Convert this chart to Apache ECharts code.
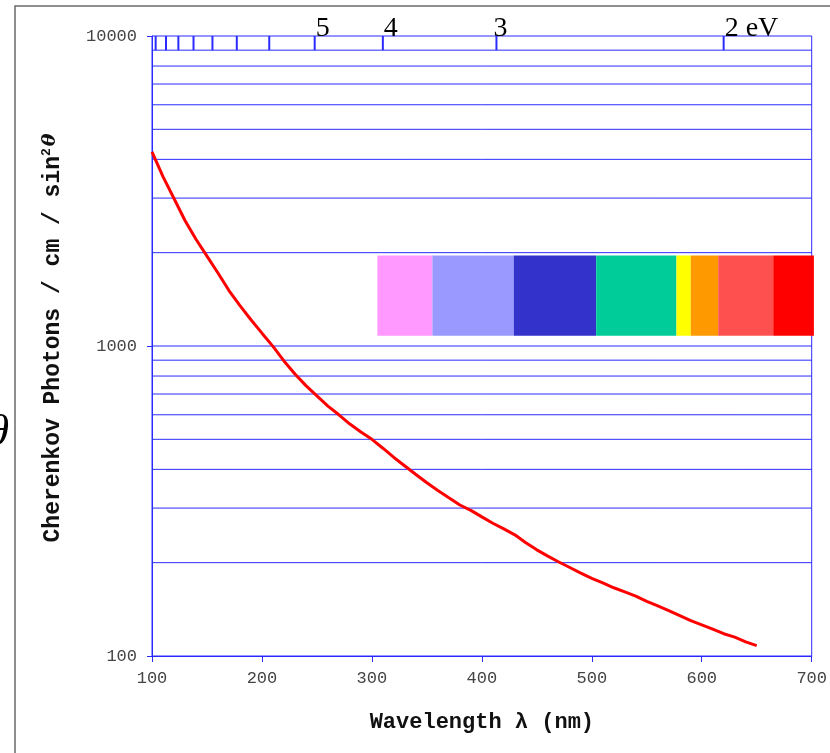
<!DOCTYPE html>
<html>
<head>
<meta charset="utf-8">
<script src="https://cdn.jsdelivr.net/npm/echarts@6/dist/echarts.min.js"></script>
<style>
  html, body { margin: 0; padding: 0; background: #fff; }
  #chart { width: 830px; height: 753px; }
</style>
</head>
<body>
<div id="chart"></div>
<script>
// Cherenkov photon yield per nm versus wavelength
const wavelength = [100,110,120,130,140,150,160,170,180,190,200,210,220,230,240,250,260,270,280,290,300,
  310,320,330,340,350,360,370,380,390,400,410,420,430,440,450,460,470,480,490,500,
  510,520,530,540,550,560,570,580,590,600,610,620,630,640,650];
const photons = [4230,3520,2990,2540,2210,1950,1720,1510,1350,1215,1100,997,895,812,745,690,640,600,560,528,500,
  468,437,410,385,362,342,324,307,295,281,268,257,246,232,220,210,201,193,185,178,
  172,166,161,156,150,145,140,135,130,126,122,118,115,111,108];

// Horizontal reference lines of the log grid
const gridValues = [200,300,400,500,600,700,800,900,1000,2000,3000,4000,5000,6000,7000,8000,9000];

// Photon energy scale along the top (eV), with the labelled values
const energyTicks = [2,3,4,5,6,7,8,9,10,11,12];
const energyLabels = { 2: '2 eV', 3: '3', 4: '4', 5: '5' };
const HC = 1239.84; // eV·nm

// Visible spectrum strip: band edges (nm) and colours
const bandEdges = [305, 355, 429, 504, 577, 590, 615, 665, 702];
const bandColors = ['#FF99FF', '#9999FF', '#3333CC', '#00CC99', '#FFFF00', '#FF9900', '#FF5050', '#FF0000'];
const bandTop = 1960, bandBottom = 1080;

const blue = '#2b2bff';
const mono = '"Liberation Mono", "Courier New", monospace';

const chart = echarts.init(document.getElementById('chart'));

chart.setOption({
  animation: false,
  backgroundColor: '#fff',
  grid: { left: 152, right: 18, top: 36, bottom: 97, show: true, borderColor: blue, borderWidth: 1, backgroundColor: 'transparent' },
  graphic: [
    { type: 'rect', shape: { x: 15, y: 6, width: 900, height: 900 }, style: { fill: 'none', stroke: '#6a6a6a', lineWidth: 1.5 }, silent: true, z: -1 },
    { type: 'text', x: 9, y: 433, style: { text: 'θ', font: 'italic 44px "Liberation Serif", serif', fill: '#000', align: 'right', verticalAlign: 'middle' }, silent: true }
  ],
  xAxis: {
    type: 'value', min: 100, max: 700, interval: 100,
    axisLine: { show: true, lineStyle: { color: blue, width: 1 } },
    axisTick: { show: true, length: 6, lineStyle: { color: blue, width: 1 } },
    splitLine: { show: false },
    axisLabel: { color: '#444', fontFamily: mono, fontSize: 17, margin: 14 },
    name: 'Wavelength λ (nm)', nameLocation: 'middle', nameGap: 55,
    nameTextStyle: { color: '#111', fontFamily: mono, fontWeight: 'bold', fontSize: 22 }
  },
  yAxis: {
    type: 'log', logBase: 10, min: 100, max: 10000,
    axisLine: { show: true, lineStyle: { color: blue, width: 1 } },
    axisTick: { show: true, length: 5, lineStyle: { color: blue, width: 1 } },
    splitLine: { show: false },
    axisLabel: { color: '#444', fontFamily: mono, fontSize: 17, margin: 15, formatter: function (v) { return String(Math.round(v)); } },
    name: '{a|Cherenkov Photons / cm / sin}{s|2}{t|θ}', nameLocation: 'middle', nameGap: 86,
    nameTextStyle: {
      color: '#111',
      padding: [0, 0, 0, 16],
      rich: {
        a: { fontFamily: mono, fontWeight: 'bold', fontSize: 23, color: '#111' },
        s: { fontFamily: mono, fontWeight: 'bold', fontSize: 13, color: '#111', padding: [0, 0, 13, 0] },
        t: { fontFamily: '"DejaVu Serif", serif', fontStyle: 'italic', fontWeight: 'bold', fontSize: 19, color: '#111', padding: [0, 0, 6, 2] }
      }
    }
  },
  series: [
    {
      // grid lines
      type: 'custom', z: 1, silent: true,
      data: gridValues,
      renderItem: function (params, api) {
        const v = api.value(0);
        const a = api.coord([100, v]);
        const b = api.coord([700, v]);
        return { type: 'line', shape: { x1: a[0], y1: a[1], x2: b[0], y2: b[1] }, style: { stroke: blue, lineWidth: 1 } };
      }
    },
    {
      // energy scale ticks and labels
      type: 'custom', z: 2, silent: true, clip: false,
      data: energyTicks,
      renderItem: function (params, api) {
        const e = api.value(0);
        const lam = HC / e;
        const p0 = api.coord([lam, 10000]);
        const p1 = api.coord([lam, 9000]);
        const children = [{ type: 'line', shape: { x1: p0[0], y1: p0[1], x2: p1[0], y2: p1[1] }, style: { stroke: blue, lineWidth: 2 } }];
        const txt = energyLabels[e];
        if (txt) {
          children.push({
            type: 'text', x: p0[0] + (e === 3 ? -3 : 1), y: p0[1] - 7.5,
            style: { text: txt, font: '28px "Liberation Serif", "Times New Roman", serif', fill: '#000', align: 'left', verticalAlign: 'middle' }
          });
        }
        return { type: 'group', children: children };
      }
    },
    {
      // visible spectrum strip
      type: 'custom', z: 2, silent: true, clip: false,
      data: bandColors.map(function (c, i) { return [bandEdges[i], bandEdges[i + 1], i]; }),
      renderItem: function (params, api) {
        const a = api.coord([api.value(0), bandTop]);
        const b = api.coord([api.value(1), bandBottom]);
        return { type: 'rect', shape: { x: a[0], y: a[1], width: b[0] - a[0], height: b[1] - a[1] }, style: { fill: bandColors[api.value(2)] } };
      }
    },
    {
      type: 'line', z: 5, silent: true,
      data: wavelength.map(function (w, i) { return [w, photons[i]]; }),
      showSymbol: false, symbol: 'none',
      lineStyle: { color: '#ff0000', width: 3 }
    }
  ]
});
</script>
</body>
</html>
